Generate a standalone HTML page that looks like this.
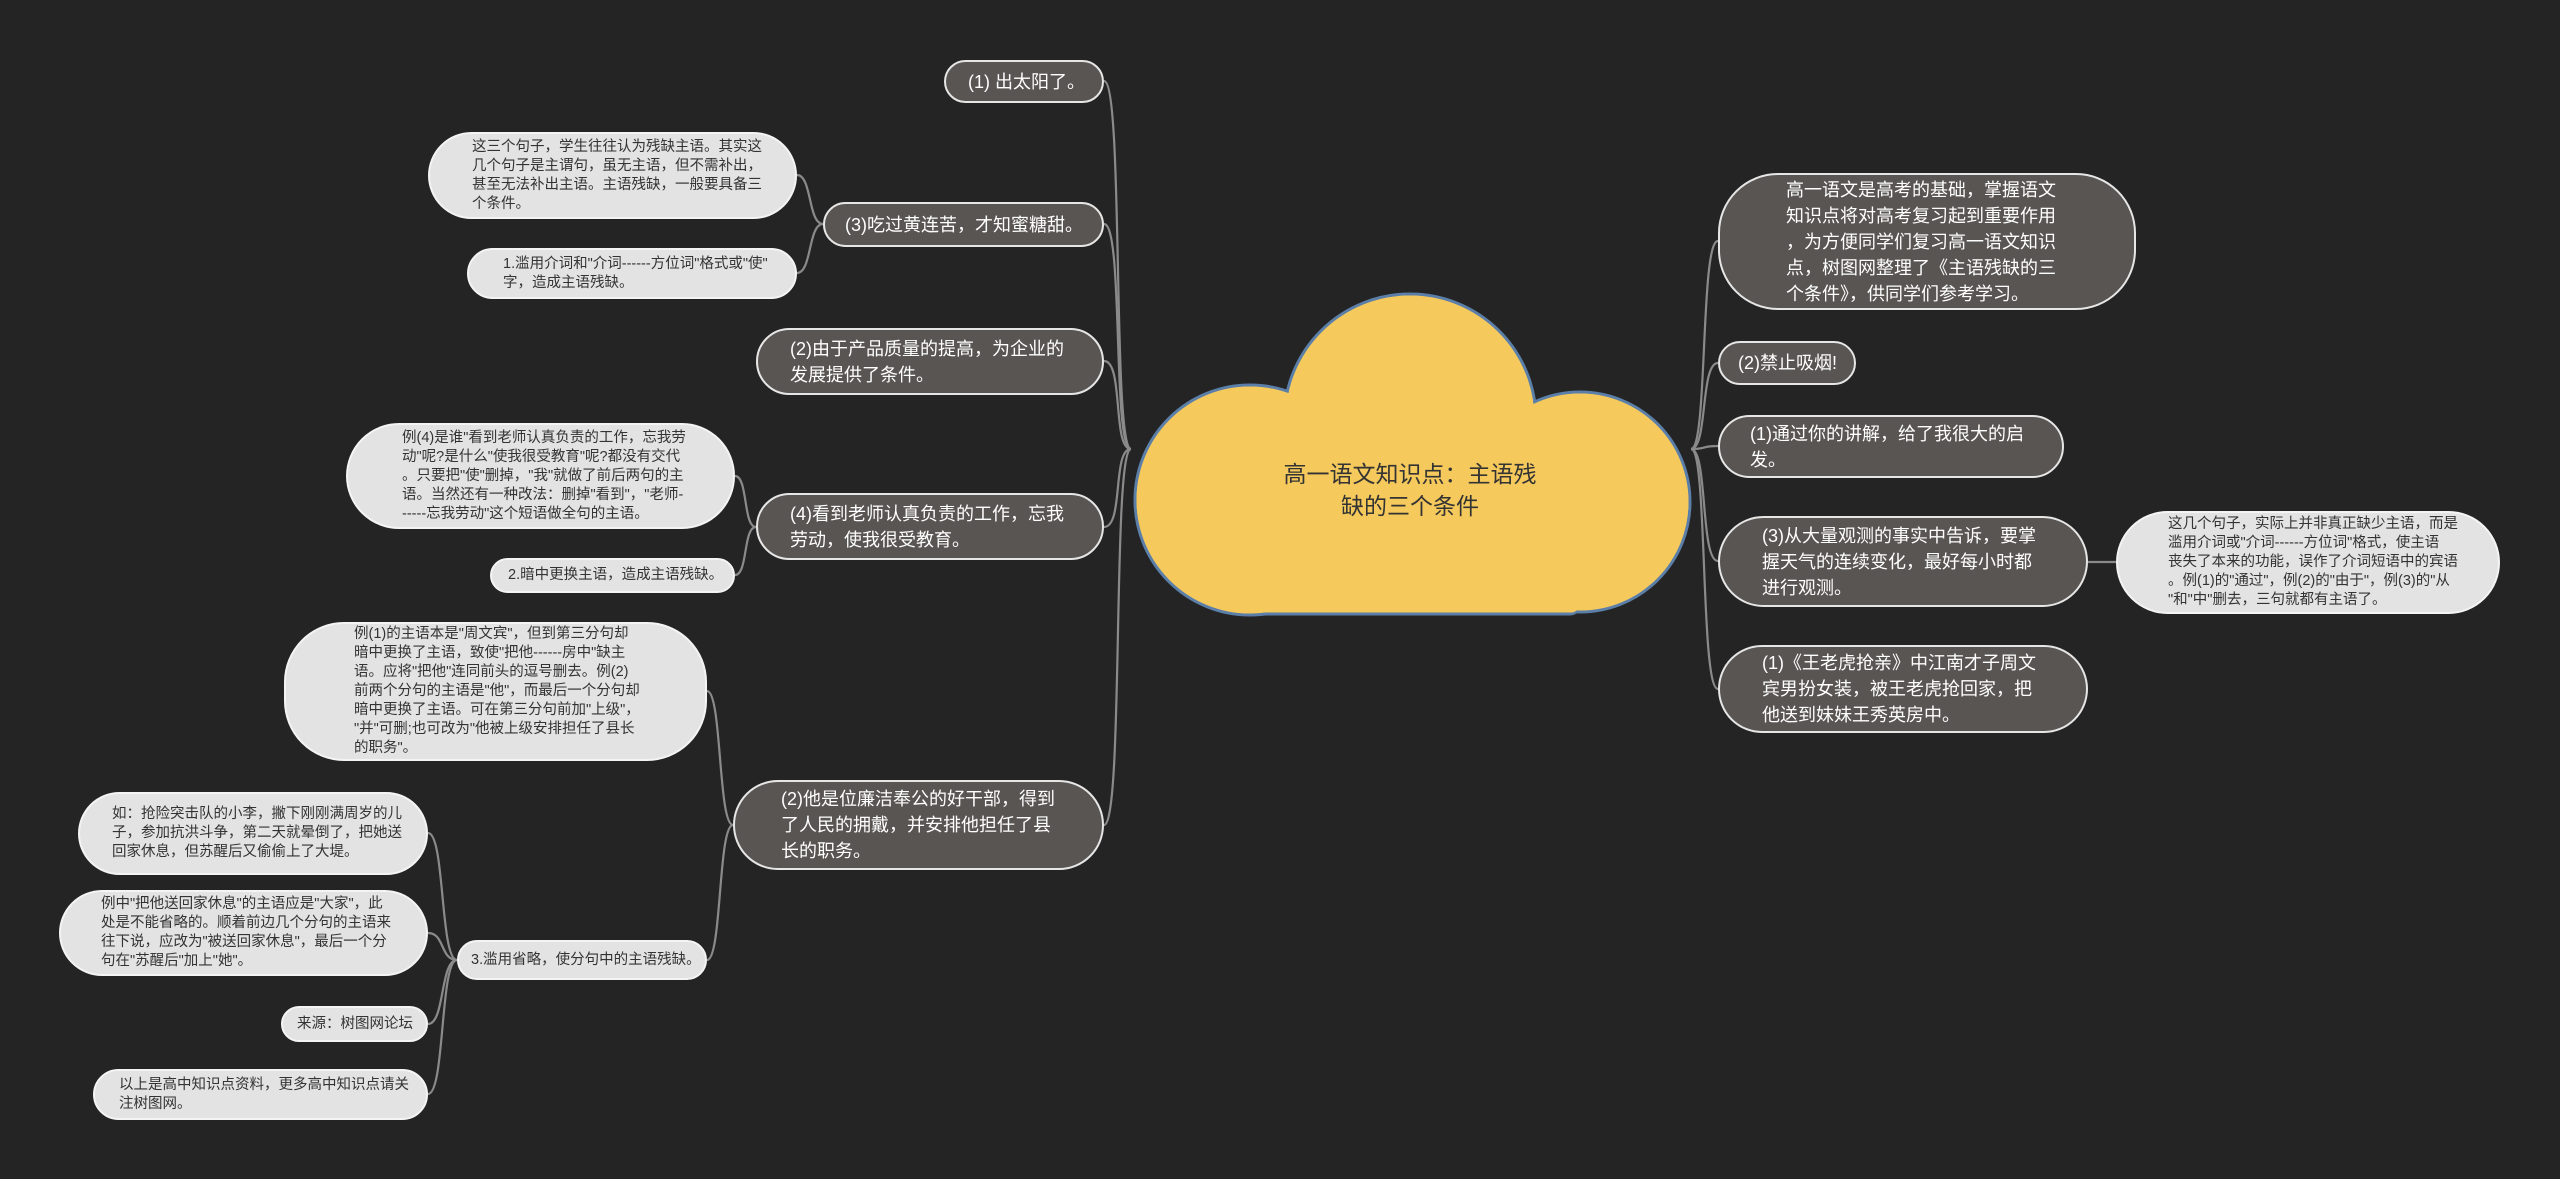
<!DOCTYPE html>
<html><head><meta charset="utf-8">
<style>
html,body{margin:0;padding:0;}
body{width:2560px;height:1179px;background:#242424;position:relative;overflow:hidden;font-family:"Liberation Sans","Noto Sans CJK SC",sans-serif;}
.n{position:absolute;box-sizing:border-box;display:flex;align-items:center;border-radius:60px;white-space:nowrap;}
.d{background:#595553;border:2px solid #e6e6e6;color:#fff;font-size:18px;line-height:26px;padding:0 10px 0 36px;}
.l{background:#e3e3e3;border:2px solid #f4f4f4;color:#333;font-size:14.5px;line-height:19px;padding:0 6px 0 42px;}
svg{position:absolute;left:0;top:0;}
.c{position:absolute;left:1240px;top:458px;width:340px;text-align:center;font-size:23px;line-height:32px;color:#333;}
</style></head><body>
<svg width="2560" height="1179">
<g fill="none" stroke="#8a8a8a" stroke-width="2.2">
<path d="M1131 449 C1112 449,1124 81,1104 81"/>
<path d="M1131 449 C1112 449,1124 224,1104 224"/>
<path d="M1131 449 C1112 449,1124 361,1104 361"/>
<path d="M1131 449 C1112 449,1124 527,1104 527"/>
<path d="M1131 449 C1112 449,1124 825,1104 825"/>
<path d="M823 224 C808 224,812 175,797 175"/>
<path d="M823 224 C808 224,812 273,797 273"/>
<path d="M756 527 C743 527,748 476,735 476"/>
<path d="M756 527 C743 527,748 575,735 575"/>
<path d="M733 825 C718 825,722 691,707 691"/>
<path d="M733 825 C718 825,722 960,707 960"/>
<path d="M457 960 C440 960,445 833,428 833"/>
<path d="M457 960 C440 960,445 933,428 933"/>
<path d="M457 960 C440 960,445 1024,428 1024"/>
<path d="M457 960 C440 960,445 1094,428 1094"/>
<path d="M1691 449 C1708 449,1700 241,1718 241"/>
<path d="M1691 449 C1708 449,1700 363,1718 363"/>
<path d="M1691 449 C1708 449,1700 446,1718 446"/>
<path d="M1691 449 C1708 449,1700 561,1718 561"/>
<path d="M1691 449 C1708 449,1700 689,1718 689"/>
<path d="M2088 562 L2116 562"/>
</g>
<g fill="#f5c95c" stroke="#5b7fa8" stroke-width="3">
<circle cx="1410" cy="420" r="126"/>
<circle cx="1250" cy="500" r="115"/>
<circle cx="1580" cy="502" r="110"/>
<rect x="1250" y="440" width="330" height="174" rx="10"/>
</g>
<g fill="#f5c95c">
<circle cx="1410" cy="420" r="124.5"/>
<circle cx="1250" cy="500" r="113.5"/>
<circle cx="1580" cy="502" r="108.5"/>
<rect x="1250" y="441.5" width="330" height="171" rx="9"/>
</g>
</svg>
<div class="c">高一语文知识点：主语残<br>缺的三个条件</div>

<div class="n d" style="left:944px;top:60px;width:160px;height:43px;padding-left:22px;">(1) 出太阳了。</div>
<div class="n l" style="left:428px;top:132px;width:369px;height:87px;">这三个句子，学生往往认为残缺主语。其实这<br>几个句子是主谓句，虽无主语，但不需补出，<br>甚至无法补出主语。主语残缺，一般要具备三<br>个条件。</div>
<div class="n l" style="left:467px;top:248px;width:330px;height:51px;padding-left:34px;">1.滥用介词和"介词------方位词"格式或"使"<br>字，造成主语残缺。</div>
<div class="n d" style="left:823px;top:202px;width:281px;height:45px;padding-left:20px;">(3)吃过黄连苦，才知蜜糖甜。</div>
<div class="n d" style="left:756px;top:328px;width:348px;height:67px;padding-left:32px;">(2)由于产品质量的提高，为企业的<br>发展提供了条件。</div>
<div class="n l" style="left:346px;top:423px;width:389px;height:106px;padding-left:54px;">例(4)是谁"看到老师认真负责的工作，忘我劳<br>动"呢?是什么"使我很受教育"呢?都没有交代<br>。只要把"使"删掉，"我"就做了前后两句的主<br>语。当然还有一种改法：删掉"看到"，"老师-<br>-----忘我劳动"这个短语做全句的主语。</div>
<div class="n l" style="left:490px;top:558px;width:245px;height:35px;padding-left:16px;">2.暗中更换主语，造成主语残缺。</div>
<div class="n d" style="left:756px;top:493px;width:348px;height:67px;padding-left:32px;">(4)看到老师认真负责的工作，忘我<br>劳动，使我很受教育。</div>
<div class="n l" style="left:284px;top:622px;width:423px;height:139px;padding-left:68px;">例(1)的主语本是"周文宾"，但到第三分句却<br>暗中更换了主语，致使"把他------房中"缺主<br>语。应将"把他"连同前头的逗号删去。例(2)<br>前两个分句的主语是"他"，而最后一个分句却<br>暗中更换了主语。可在第三分句前加"上级"，<br>"并"可删;也可改为"他被上级安排担任了县长<br>的职务"。</div>
<div class="n d" style="left:733px;top:780px;width:371px;height:90px;padding-left:46px;">(2)他是位廉洁奉公的好干部，得到<br>了人民的拥戴，并安排他担任了县<br>长的职务。</div>
<div class="n l" style="left:457px;top:940px;width:250px;height:40px;padding-left:12px;">3.滥用省略，使分句中的主语残缺。</div>
<div class="n l" style="left:78px;top:792px;width:350px;height:83px;padding-left:32px;">如：抢险突击队的小李，撇下刚刚满周岁的儿<br>子，参加抗洪斗争，第二天就晕倒了，把她送<br>回家休息，但苏醒后又偷偷上了大堤。</div>
<div class="n l" style="left:59px;top:890px;width:369px;height:86px;padding-left:40px;">例中"把他送回家休息"的主语应是"大家"，此<br>处是不能省略的。顺着前边几个分句的主语来<br>往下说，应改为"被送回家休息"，最后一个分<br>句在"苏醒后"加上"她"。</div>
<div class="n l" style="left:281px;top:1006px;width:147px;height:36px;padding-left:14px;">来源：树图网论坛</div>
<div class="n l" style="left:93px;top:1069px;width:335px;height:51px;padding-left:24px;">以上是高中知识点资料，更多高中知识点请关<br>注树图网。</div>

<div class="n d" style="left:1718px;top:173px;width:418px;height:137px;padding-left:66px;">高一语文是高考的基础，掌握语文<br>知识点将对高考复习起到重要作用<br>，为方便同学们复习高一语文知识<br>点，树图网整理了《主语残缺的三<br>个条件》，供同学们参考学习。</div>
<div class="n d" style="left:1718px;top:341px;width:138px;height:44px;padding-left:18px;">(2)禁止吸烟!</div>
<div class="n d" style="left:1718px;top:415px;width:346px;height:63px;padding-left:30px;">(1)通过你的讲解，给了我很大的启<br>发。</div>
<div class="n d" style="left:1718px;top:516px;width:370px;height:91px;padding-left:42px;">(3)从大量观测的事实中告诉，要掌<br>握天气的连续变化，最好每小时都<br>进行观测。</div>
<div class="n l" style="left:2116px;top:511px;width:384px;height:103px;padding-left:50px;">这几个句子，实际上并非真正缺少主语，而是<br>滥用介词或"介词------方位词"格式，使主语<br>丧失了本来的功能，误作了介词短语中的宾语<br>。例(1)的"通过"，例(2)的"由于"，例(3)的"从<br>"和"中"删去，三句就都有主语了。</div>
<div class="n d" style="left:1718px;top:645px;width:370px;height:88px;padding-left:42px;">(1)《王老虎抢亲》中江南才子周文<br>宾男扮女装，被王老虎抢回家，把<br>他送到妹妹王秀英房中。</div>
</body></html>
